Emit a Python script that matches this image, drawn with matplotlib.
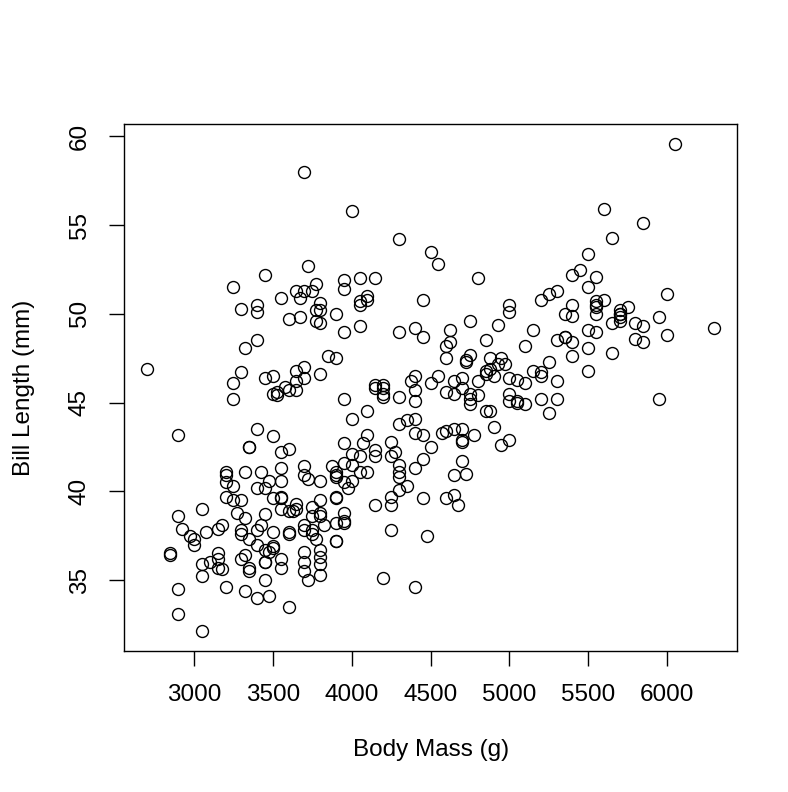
import matplotlib
matplotlib.use("Agg")
import matplotlib.pyplot as plt

# Palmer penguins: body mass (g) and bill length (mm), rows with missing values dropped
adelie_mass = [3750, 3800, 3250, 3450, 3650, 3625, 4675, 3475, 4250, 3300, 3700, 3200, 3800, 4400,
               3700, 3450, 4500, 3325, 4200, 3400, 3600, 3800, 3950, 3800, 3800, 3550, 3200, 3150,
               3950, 3250, 3900, 3300, 3900, 3325, 4150, 3950, 3550, 3300, 4650, 3150, 3900, 3100,
               4400, 3000, 4600, 3425, 2975, 3450, 4150, 3500, 4300, 3450, 4050, 2900, 3700, 3550,
               3800, 2850, 3750, 3150, 4400, 3600, 4050, 2850, 3950, 3350, 4100, 3050, 4450, 3600,
               3900, 3550, 4150, 3700, 4250, 3700, 3900, 3550, 4000, 3200, 4700, 3800, 4200, 3350,
               3550, 3800, 3500, 3950, 3600, 3550, 4300, 3400, 4450, 3300, 4300, 3700, 4350, 2900,
               4100, 3725, 4725, 3075, 4250, 2925, 3550, 3750, 3900, 3175, 4775, 3825, 4600, 3200,
               4275, 3900, 4075, 2900, 3775, 3350, 3325, 3150, 3500, 3450, 3875, 3050, 4000, 3275,
               4300, 3050, 4000, 3325, 3500, 3500, 4475, 3425, 3900, 3175, 3975, 3400, 4250, 3400,
               3475, 3050, 3725, 3000, 3650, 4250, 3475, 3450, 3750, 3700, 4000]
adelie_bill = [39.1, 39.5, 40.3, 36.7, 39.3, 38.9, 39.2, 34.1, 42.0, 37.8, 37.8, 41.1, 38.6, 34.6,
               36.6, 38.7, 42.5, 34.4, 46.0, 37.8, 37.7, 35.9, 38.2, 38.8, 35.3, 40.6, 40.5, 37.9,
               40.5, 39.5, 37.2, 39.5, 40.9, 36.4, 39.2, 38.8, 42.2, 37.6, 39.8, 36.5, 40.8, 36.0,
               44.1, 37.0, 39.6, 41.1, 37.5, 36.0, 42.3, 39.6, 40.1, 35.0, 42.0, 34.5, 41.4, 39.0,
               40.6, 36.5, 37.6, 35.7, 41.3, 37.6, 41.1, 36.4, 41.6, 35.5, 41.1, 35.9, 41.8, 33.5,
               39.7, 39.6, 45.8, 35.5, 42.8, 40.9, 37.2, 36.2, 42.1, 34.6, 42.9, 36.7, 35.1, 37.3,
               41.3, 36.3, 36.9, 38.3, 38.9, 35.7, 41.1, 34.0, 39.6, 36.2, 40.8, 38.1, 40.3, 33.1,
               43.2, 35.0, 41.0, 37.7, 37.8, 37.9, 39.7, 38.6, 38.2, 38.1, 43.2, 38.1, 45.6, 39.7,
               42.2, 39.6, 42.7, 38.6, 37.3, 35.7, 41.1, 36.2, 37.7, 40.2, 41.4, 35.2, 40.6, 38.8,
               41.5, 39.0, 44.1, 38.5, 43.1, 36.8, 37.5, 38.1, 41.1, 35.6, 40.2, 37.0, 39.7, 40.2,
               40.6, 32.1, 40.7, 37.3, 39.0, 39.2, 36.6, 36.0, 37.8, 36.0, 41.5]

gentoo_mass = [4500, 5700, 4450, 5700, 5400, 4550, 4800, 5200, 4400, 5150, 4650, 5550, 4650, 5850,
               4200, 5850, 4150, 6300, 4800, 5350, 5700, 5000, 4400, 5050, 5000, 5100, 4100, 5650,
               4600, 5550, 5250, 4700, 5050, 6050, 5150, 5400, 4950, 5250, 4350, 5350, 3950, 5700,
               4300, 4750, 5550, 4900, 4200, 5400, 5100, 5300, 4850, 5300, 4400, 5000, 4900, 5050,
               4300, 5000, 4450, 5550, 4200, 5300, 4400, 5650, 4700, 5700, 4650, 5800, 4700, 5550,
               4750, 5000, 5100, 5200, 4700, 5800, 4600, 6000, 4750, 5950, 4625, 5450, 4725, 5350,
               4750, 5600, 4600, 5300, 4875, 5550, 4950, 5400, 4750, 5650, 4850, 5200, 4925, 4875,
               4625, 5250, 4850, 5600, 4975, 5500, 4725, 5500, 4700, 5500, 4575, 5500, 5000, 5950,
               4650, 5500, 4375, 5850, 4875, 6000, 4925, 4850, 5750, 5200, 5400]
gentoo_bill = [46.1, 50.0, 48.7, 50.0, 47.6, 46.5, 45.4, 46.7, 43.3, 46.8, 40.9, 49.0, 45.5, 48.4,
               45.8, 49.3, 42.0, 49.2, 46.2, 48.7, 50.2, 45.1, 46.5, 46.3, 42.9, 46.1, 44.5, 47.8,
               48.2, 50.0, 47.3, 42.8, 45.1, 59.6, 49.1, 48.4, 42.6, 44.4, 44.0, 48.7, 42.7, 49.6,
               45.3, 49.6, 50.5, 43.6, 45.5, 50.5, 44.9, 45.2, 46.6, 48.5, 45.1, 50.1, 46.5, 45.0,
               43.8, 45.5, 43.2, 50.4, 45.3, 46.2, 45.7, 54.3, 45.8, 49.8, 46.2, 49.5, 43.5, 50.7,
               47.7, 46.4, 48.2, 46.5, 46.4, 48.6, 47.5, 51.1, 45.2, 45.2, 49.1, 52.5, 47.4, 50.0,
               44.9, 50.8, 43.4, 51.3, 47.5, 52.1, 47.5, 52.2, 45.5, 49.5, 44.5, 50.8, 49.4, 46.9,
               48.4, 51.1, 48.5, 55.9, 47.2, 49.1, 47.3, 46.8, 41.7, 53.4, 43.3, 48.1, 50.5, 49.8,
               43.5, 51.5, 46.2, 55.1, 44.5, 48.8, 47.2, 46.8, 50.4, 45.2, 49.9]

chinstrap_mass = [3500, 3900, 3650, 3525, 3725, 3950, 3250, 3750, 4150, 3700, 3800, 3775, 3700, 4050,
                  3575, 4050, 3300, 3700, 3450, 4400, 3600, 3400, 2900, 3800, 3300, 4150, 3400, 3800,
                  3700, 4550, 3200, 4300, 3350, 4100, 3600, 3900, 3850, 4800, 2700, 4500, 3950, 3650,
                  3550, 3500, 3675, 4450, 3400, 4300, 3250, 3675, 3325, 3950, 3600, 4050, 3350, 3450,
                  3250, 4050, 3800, 3525, 3950, 3650, 3650, 4000, 3400, 3775, 4100, 3775]
chinstrap_bill = [46.5, 50.0, 51.3, 45.4, 52.7, 45.2, 46.1, 51.3, 46.0, 51.3, 46.6, 51.7, 47.0, 52.0,
                  45.9, 50.5, 50.3, 58.0, 46.4, 49.2, 42.4, 48.5, 43.2, 50.6, 46.7, 52.0, 50.5, 49.5,
                  46.4, 52.8, 40.9, 54.2, 42.5, 51.0, 49.7, 47.5, 47.6, 52.0, 46.9, 53.5, 49.0, 46.2,
                  50.9, 45.5, 50.9, 50.8, 50.1, 49.0, 51.5, 49.8, 48.1, 51.4, 45.7, 50.7, 42.5, 52.2,
                  45.2, 49.3, 50.2, 45.6, 51.9, 46.8, 45.7, 55.8, 43.5, 49.6, 50.8, 50.2]

x_ticks = [3000, 3500, 4000, 4500, 5000, 5500, 6000]
y_ticks = [35, 40, 45, 50, 55, 60]

mass = adelie_mass + gentoo_mass + chinstrap_mass
bill = adelie_bill + gentoo_bill + chinstrap_bill

plt.rcParams['font.family'] = ['Liberation Sans', 'DejaVu Sans']

fig = plt.figure(figsize=(7.88, 7.92), dpi=100)
ax = fig.add_axes([124 / 788, 1 - 651 / 792, 613 / 788, 527 / 792])

ax.plot(mass, bill, linestyle='none', marker='o', markersize=8.6,
        markerfacecolor='none', markeredgecolor='black', markeredgewidth=1.0)

# R style axis limits: data range padded by 4% on each side
def r_limits(vals):
    lo, hi = min(vals), max(vals)
    pad = (hi - lo) * 0.04
    return lo - pad, hi + pad

ax.set_xlim(*r_limits(mass))
ax.set_ylim(*r_limits(bill))

ax.set_xticks(x_ticks)
ax.set_xticklabels([str(t) for t in x_ticks])
ax.set_yticks(y_ticks)
ax.set_yticklabels([str(t) for t in y_ticks], rotation=90, va='center')

ax.tick_params(axis='both', direction='out', length=11, width=1.0,
               labelsize=17.5, pad=13, colors='black')
for s in ax.spines.values():
    s.set_linewidth(1.0)
    s.set_color('black')

fig.text(431 / 788, 1 - 750 / 792, 'Body Mass (g)', ha='center', va='center', fontsize=17.5)
fig.text(24 / 788, 1 - 388 / 792, 'Bill Length (mm)', ha='center', va='center',
         rotation=90, fontsize=17.5)

fig.savefig('out.png', dpi=100)
